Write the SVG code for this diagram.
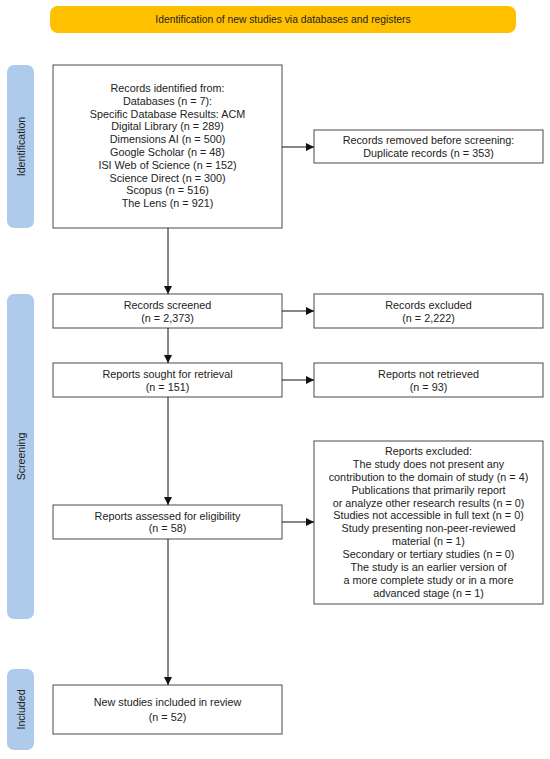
<svg xmlns="http://www.w3.org/2000/svg" width="550" height="759" viewBox="0 0 550 759">
<style>
  .box { fill: #ffffff; stroke: #4a4a4a; stroke-width: 1; }
  .side { fill: #aecbeb; }
  .t { font-family: "Liberation Sans", Arial, sans-serif; font-size: 10.8px; fill: #222222; text-anchor: middle; }
  .b { font-size: 10.3px; }
  .s { font-size: 10.6px; }
  .conn { stroke: #111111; stroke-width: 1; fill: none; marker-end: url(#arr); }
</style>
<defs>
  <marker id="arr" viewBox="0 0 10 10" refX="10" refY="5" markerWidth="8" markerHeight="8" markerUnits="userSpaceOnUse" orient="auto">
    <path d="M0,0 L10,5 L0,10 z" fill="#111111"/>
  </marker>
</defs>
<rect width="550" height="759" fill="#ffffff"/>

<g id="banner">
  <rect x="50" y="6" width="466" height="27" rx="8" fill="#ffc000"/>
  <text class="t b" x="283" y="23.3">Identification of new studies via databases and registers</text>
</g>

<g id="side-identification">
  <rect class="side" x="7" y="65" width="27" height="163" rx="7"/>
  <text class="t s" transform="translate(24.5,146.5) rotate(-90)">Identification</text>
</g>
<g id="side-screening">
  <rect class="side" x="7" y="294" width="27" height="325" rx="7"/>
  <text class="t s" transform="translate(24.5,456.5) rotate(-90)">Screening</text>
</g>
<g id="side-included">
  <rect class="side" x="7" y="669" width="27" height="81" rx="7"/>
  <text class="t s" transform="translate(24.5,709.5) rotate(-90)">Included</text>
</g>

<g id="records-identified">
  <rect class="box" x="53" y="65" width="229" height="163"/>
  <text class="t" x="167.5" y="92">Records identified from:</text>
  <text class="t" x="167.5" y="104.8">Databases (n = 7):</text>
  <text class="t" x="167.5" y="117.6">Specific Database Results: ACM</text>
  <text class="t" x="167.5" y="130.4">Digital Library (n = 289)</text>
  <text class="t" x="167.5" y="143.2">Dimensions AI (n = 500)</text>
  <text class="t" x="167.5" y="156">Google Scholar (n = 48)</text>
  <text class="t" x="167.5" y="168.8">ISI Web of Science (n = 152)</text>
  <text class="t" x="167.5" y="181.6">Science Direct (n = 300)</text>
  <text class="t" x="167.5" y="194.4">Scopus (n = 516)</text>
  <text class="t" x="167.5" y="207.2">The Lens (n = 921)</text>
</g>

<g id="records-removed">
  <rect class="box" x="314" y="130" width="229" height="33"/>
  <text class="t" x="428.5" y="144">Records removed before screening:</text>
  <text class="t" x="428.5" y="156.7">Duplicate records (n = 353)</text>
</g>

<g id="records-screened">
  <rect class="box" x="53" y="294" width="229" height="34"/>
  <text class="t" x="167.5" y="309.1">Records screened</text>
  <text class="t" x="167.5" y="321.8">(n = 2,373)</text>
</g>

<g id="records-excluded">
  <rect class="box" x="314" y="294" width="229" height="34"/>
  <text class="t" x="428.5" y="309.1">Records excluded</text>
  <text class="t" x="428.5" y="321.8">(n = 2,222)</text>
</g>

<g id="reports-sought">
  <rect class="box" x="53" y="363" width="229" height="34"/>
  <text class="t" x="167.5" y="378.1">Reports sought for retrieval</text>
  <text class="t" x="167.5" y="390.8">(n = 151)</text>
</g>

<g id="reports-not-retrieved">
  <rect class="box" x="314" y="363" width="229" height="34"/>
  <text class="t" x="428.5" y="378.1">Reports not retrieved</text>
  <text class="t" x="428.5" y="390.8">(n = 93)</text>
</g>

<g id="reports-assessed">
  <rect class="box" x="53" y="505" width="229" height="34"/>
  <text class="t" x="167.5" y="519.7">Reports assessed for eligibility</text>
  <text class="t" x="167.5" y="532.3">(n = 58)</text>
</g>

<g id="reports-excluded">
  <rect class="box" x="314" y="441" width="229" height="163"/>
  <text class="t" x="428.5" y="455">Reports excluded:</text>
  <text class="t" x="428.5" y="467.9">The study does not present any</text>
  <text class="t" x="428.5" y="480.8">contribution to the domain of study (n = 4)</text>
  <text class="t" x="428.5" y="493.6">Publications that primarily report</text>
  <text class="t" x="428.5" y="506.5">or analyze other research results (n = 0)</text>
  <text class="t" x="428.5" y="519.4">Studies not accessible in full text (n = 0)</text>
  <text class="t" x="428.5" y="532.3">Study presenting non-peer-reviewed</text>
  <text class="t" x="428.5" y="545.2">material (n = 1)</text>
  <text class="t" x="428.5" y="558">Secondary or tertiary studies (n = 0)</text>
  <text class="t" x="428.5" y="570.9">The study is an earlier version of</text>
  <text class="t" x="428.5" y="583.8">a more complete study or in a more</text>
  <text class="t" x="428.5" y="596.7">advanced stage (n = 1)</text>
</g>

<g id="included">
  <rect class="box" x="53" y="685" width="229" height="49"/>
  <text class="t" x="167.5" y="706.3">New studies included in review</text>
  <text class="t" x="167.5" y="720.7">(n = 52)</text>
</g>

<g id="connectors">
  <line class="conn" x1="282" y1="147" x2="314" y2="147"/>
  <line class="conn" x1="168" y1="228" x2="168" y2="294"/>
  <line class="conn" x1="282" y1="311" x2="314" y2="311"/>
  <line class="conn" x1="168" y1="328" x2="168" y2="363"/>
  <line class="conn" x1="282" y1="380" x2="314" y2="380"/>
  <line class="conn" x1="168" y1="397" x2="168" y2="505"/>
  <line class="conn" x1="282" y1="522" x2="314" y2="522"/>
  <line class="conn" x1="168" y1="539" x2="168" y2="685"/>
</g>
</svg>
